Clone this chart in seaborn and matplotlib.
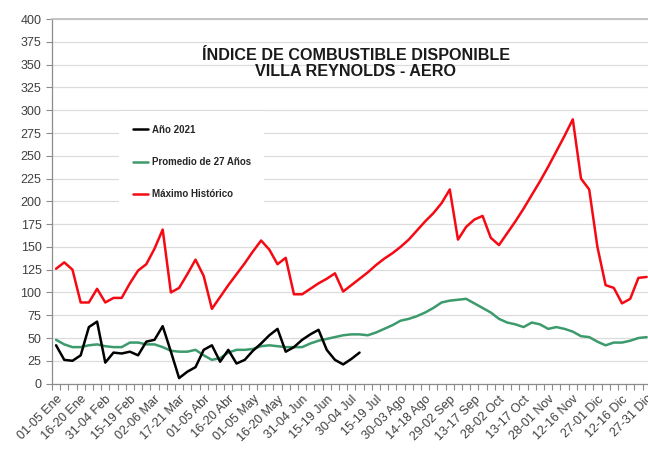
import numpy as np
import pandas as pd
import matplotlib
matplotlib.use("Agg")
import matplotlib.pyplot as plt
import seaborn as sns
from matplotlib.ticker import FixedLocator
from matplotlib.transforms import ScaledTranslation

etiquetas = ["01-05 Ene", "16-20 Ene", "31-04 Feb", "15-19 Feb", "02-06 Mar",
             "17-21 Mar", "01-05 Abr", "16-20 Abr", "01-05 May", "16-20 May",
             "31-04 Jun", "15-19 Jun", "30-04 Jul", "15-19 Jul", "30-03 Ago",
             "14-18 Ago", "29-02 Sep", "13-17 Sep", "28-02 Oct", "13-17 Oct",
             "28-01 Nov", "12-16 Nov", "27-01 Dic", "12-16 Dic", "27-31 Dic"]

# un valor por péntada (73 en el año)
maximo = [126, 133, 125, 89, 89, 104, 89, 94, 94, 110, 124, 131, 148, 169, 100,
          105, 120, 136, 118, 82, 95, 108, 120, 132, 145, 157, 147, 131, 138, 98,
          98, 104, 110, 115, 121, 101, 108, 115, 122, 130, 137, 143, 150, 158, 168,
          178, 187, 198, 213, 158, 172, 180, 184, 160, 152, 165, 178, 192, 207, 222,
          238, 255, 272, 290, 225, 213, 150, 108, 105, 88, 93, 116, 117]

promedio = [48, 43, 40, 40, 42, 43, 41, 40, 40, 45, 45, 43, 43, 40, 36,
            35, 35, 37, 31, 26, 28, 34, 37, 37, 38, 41, 42, 41, 40, 40,
            40, 44, 47, 49, 51, 53, 54, 54, 53, 56, 60, 64, 69, 71, 74,
            78, 83, 89, 91, 92, 93, 88, 83, 78, 71, 67, 65, 62, 67, 65,
            60, 62, 60, 57, 52, 51, 46, 42, 45, 45, 47, 50, 51]

anio_2021 = [42, 26, 25, 31, 62, 68, 23, 34, 33, 35, 31, 46, 48, 63, 35,
             6, 13, 18, 37, 42, 24, 37, 22, 26, 36, 44, 53, 60, 35, 40,
             48, 54, 59, 37, 26, 21, 27, 34]

sns.set_style("white")
plt.rcParams["font.family"] = ["Liberation Sans", "DejaVu Sans"]

fig = plt.figure(figsize=(6.48, 4.55), dpi=100)
ax = fig.add_axes([0.0802, 0.157, 0.924, 0.801])

pos = np.arange(len(maximo))
sns.lineplot(x=pos, y=maximo, ax=ax, color="#f50a14", linewidth=1.8, label="Máximo Histórico")
sns.lineplot(x=pos, y=promedio, ax=ax, color="#3c9a6c", linewidth=1.8, label="Promedio de 27 Años")
sns.lineplot(x=pos[:len(anio_2021)], y=anio_2021, ax=ax, color="black", linewidth=1.8, label="Año 2021")

ax.set_xlim(-0.5, len(maximo) - 0.5)
ax.set_ylim(0, 400)
ax.set_yticks(np.arange(0, 401, 25))
ax.yaxis.grid(True, color="#dcdcdc", linewidth=0.9)
ax.set_axisbelow(True)

ax.set_xticks(pos[::3])
ax.set_xticklabels(etiquetas, rotation=45, ha="right", rotation_mode="anchor", fontsize=9, color="#404040")
desplazar = ScaledTranslation(4 / 72, -2 / 72, fig.dpi_scale_trans)
for lab in ax.get_xticklabels():
    lab.set_transform(lab.get_transform() + desplazar)
ax.xaxis.set_minor_locator(FixedLocator(np.arange(-0.5, len(maximo), 1)))
ax.tick_params(axis="x", which="major", length=0, pad=7)
ax.tick_params(axis="x", which="minor", length=4, color="#8c8c8c", width=0.8, bottom=True)
ax.tick_params(axis="y", length=4, color="#8c8c8c", width=0.8, left=True, labelsize=9, labelcolor="#404040")

for lado in ["left", "bottom"]:
    ax.spines[lado].set_color("#8c8c8c")
    ax.spines[lado].set_linewidth(0.9)
ax.spines["top"].set_color("#c0c0c0")
ax.spines["top"].set_linewidth(1.3)
ax.spines["right"].set_visible(False)

h, l = ax.get_legend_handles_labels()
leg = ax.legend([h[2], h[1], h[0]], [l[2], l[1], l[0]], loc="upper left",
                bbox_to_anchor=(0.112, 0.748), frameon=True, facecolor="white",
                edgecolor="none", framealpha=1, fancybox=False,
                prop={"size": 7, "weight": "bold"}, handlelength=1.6,
                handletextpad=0.35, labelspacing=2.3, borderpad=1.4,
                borderaxespad=0)
for t in leg.get_texts():
    t.set_color("#262626")

fig.text(0.549, 0.860, "ÍNDICE DE COMBUSTIBLE DISPONIBLE\nVILLA REYNOLDS - AERO",
         ha="center", va="center", fontsize=11.6, fontweight="bold",
         linespacing=1.08, color="#1a1a1a")

fig.savefig("out.png", dpi=100)
